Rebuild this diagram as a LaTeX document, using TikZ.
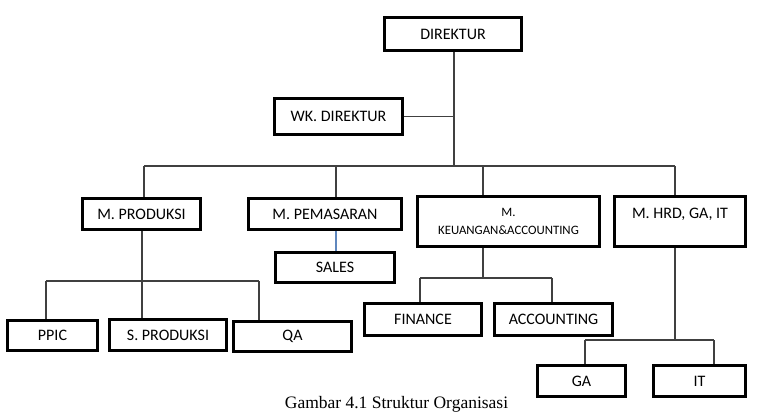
\documentclass[tikz,border=0pt]{standalone}
\usepackage{fontspec}
\setmainfont{Carlito}
\newfontfamily\captionfont{Liberation Serif}
\usetikzlibrary{positioning}

\begin{document}
\begin{tikzpicture}[
    x=1pt,y=-1pt,
    unit/.style={draw,line width=2.6pt,inner sep=0pt,
                 font=\fontsize{16}{18}\selectfont},
    link/.style={draw=black!75,line width=1.1pt},
    bluelink/.style={draw={rgb,255:red,95;green,135;blue,190},line width=1.1pt},
    ]

    % Page frame
    \useasboundingbox (0,0) rectangle (758,413);

    % Top
    \node[unit,minimum width=137,minimum height=33] (dir) at (453,34) {DIREKTUR};
    \node[unit,minimum width=128,minimum height=36] (wk) at (338.5,116.5) {WK. DIREKTUR};

    % Managers
    \node[unit,minimum width=118,minimum height=31] (mprod) at (141.5,214) {M. PRODUKSI};
    \node[unit,minimum width=153,minimum height=31] (mpem) at (325,214) {M. PEMASARAN};
    \node[unit,minimum width=182,minimum height=50,align=center,
          font=\fontsize{12.8}{18}\selectfont] (mkeu) at (508.5,221.5) {M.\\KEUANGAN\&ACCOUNTING};
    \node[unit,minimum width=131,minimum height=50,
          text height=12pt,text depth=19pt] (mhrd) at (680,221.5) {M. HRD, GA, IT};

    % Staff
    \node[unit,minimum width=119,minimum height=30] (sales) at (335,267.5) {SALES};
    \node[unit,minimum width=90,minimum height=30] (ppic) at (52.5,335.5) {PPIC};
    \node[unit,minimum width=117,minimum height=31] (sprod) at (168,335) {S. PRODUKSI};
    \node[unit,minimum width=118,minimum height=30] (qa) at (292.5,336.5) {QA};
    \node[unit,minimum width=117,minimum height=32] (fin) at (423,319.5) {FINANCE};
    \node[unit,minimum width=118,minimum height=32] (acc) at (553.5,319.5) {ACCOUNTING};
    \node[unit,minimum width=88,minimum height=31] (ga) at (581.5,381) {GA};
    \node[unit,minimum width=92,minimum height=31] (it) at (699.5,381) {IT};

    % Branch points
    \coordinate (trunk) at (454,166);
    \coordinate (bl) at (144,166);
    \coordinate (br) at (675,166);
    \coordinate (dpem) at (336,166);
    \coordinate (dkeu) at (483,166);
    \coordinate (prodbar) at (142,281);
    \coordinate (ppicl) at (46,281);
    \coordinate (qar) at (259,281);
    \coordinate (keubar) at (483,278);
    \coordinate (finl) at (420,278);
    \coordinate (accr) at (552,278);
    \coordinate (hrdbar) at (675,340);
    \coordinate (gal) at (585,340);
    \coordinate (itr) at (714,340);

    % Direktur and wakil
    \draw[link] (trunk |- dir.south) -- (trunk);
    \draw[link] (wk.east) -- (wk.east -| trunk);

    % Manager bar
    \draw[link] (bl) -- (br);
    \draw[link] (bl) -- (bl |- mprod.north);
    \draw[link] (dpem) -- (dpem |- mpem.north);
    \draw[link] (dkeu) -- (dkeu |- mkeu.north);
    \draw[link] (br) -- (br |- mhrd.north);

    % Pemasaran
    \draw[bluelink] (dpem |- mpem.south) -- (dpem |- sales.north);

    % Produksi
    \draw[link] (prodbar |- mprod.south) -- (prodbar);
    \draw[link] (ppicl) -- (qar);
    \draw[link] (ppicl) -- (ppicl |- ppic.north);
    \draw[link] (prodbar) -- (prodbar |- sprod.north);
    \draw[link] (qar) -- (qar |- qa.north);

    % Keuangan
    \draw[link] (keubar |- mkeu.south) -- (keubar);
    \draw[link] (finl) -- (accr);
    \draw[link] (finl) -- (finl |- fin.north);
    \draw[link] (accr) -- (accr |- acc.north);

    % HRD
    \draw[link] (hrdbar |- mhrd.south) -- (hrdbar);
    \draw[link] (gal) -- (itr);
    \draw[link] (gal) -- (gal |- ga.north);
    \draw[link] (itr) -- (itr |- it.north);

    % Caption
    \node[anchor=base,inner sep=0pt,font=\captionfont\fontsize{17.5}{20}\selectfont]
        (cap) at (396.5,408.5) {Gambar 4.1 Struktur Organisasi};
\end{tikzpicture}
\end{document}
